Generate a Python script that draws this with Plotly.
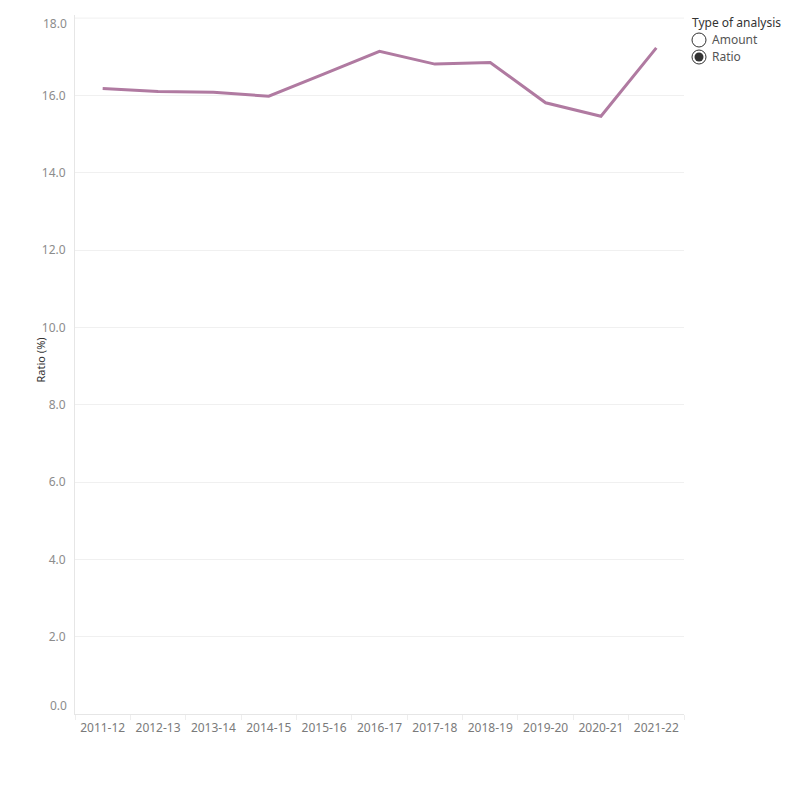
import plotly.graph_objects as go

years = ["2011-12", "2012-13", "2013-14", "2014-15", "2015-16", "2016-17",
         "2017-18", "2018-19", "2019-20", "2020-21", "2021-22"]
ratio = [16.18, 16.10, 16.08, 15.98, 16.56, 17.14, 16.81, 16.85, 15.81, 15.46, 17.23]
ytick_vals = [2, 4, 6, 8, 10, 12, 14, 16]
yend_vals = [0, 18]
legend_items = ["Amount", "Ratio"]
selected = "Ratio"

FONT = "Noto Sans"
L, R, T, B = 75, 116, 15, 86
PW, PH = 800 - L - R, 800 - T - B

fig = go.Figure()
fig.add_trace(go.Scatter(x=years, y=ratio, mode="lines",
                         line=dict(color="#b07aa1", width=3), showlegend=False))

fig.update_layout(
    width=800, height=800, margin=dict(l=L, r=R, t=T, b=B),
    paper_bgcolor="white", plot_bgcolor="white",
    font=dict(family=FONT, size=12, color="#666"),
    showlegend=False,
    xaxis=dict(type="category", range=[-0.5, 10.5], showgrid=False,
               showline=True, linecolor="#e6e6e6", linewidth=1,
               ticks="outside", tickson="boundaries", ticklen=5, tickcolor="#eeeeee",
               ticklabelstandoff=3,
               tickfont=dict(family=FONT, size=12, color="#7a7a7a"), fixedrange=True),
    yaxis=dict(range=[0, 18.08], tickvals=ytick_vals,
               ticktext=[f"{v:.1f}" for v in ytick_vals],
               showgrid=True, gridcolor="#f0f0f0", gridwidth=1, zeroline=False,
               showline=True, linecolor="#e6e6e6", linewidth=1,
               ticks="", ticklabelstandoff=6,
               tickfont=dict(family=FONT, size=12, color="#8c8c8c")),
)

# end tick labels (kept inside axis like the reference) + gridline at 18
for v, ys in zip(yend_vals, [9, -5]):
    fig.add_annotation(x=0, xref="paper", xanchor="right", xshift=-6, y=v, yref="y",
                       yshift=ys, text=f"{v:.1f}", showarrow=False,
                       font=dict(family=FONT, size=12, color="#8c8c8c"))
fig.add_shape(type="line", xref="paper", x0=0, x1=1, yref="y", y0=18, y1=18,
              line=dict(color="#f0f0f0", width=1), layer="below")

# y-axis title
fig.add_annotation(x=(30 - L) / PW, xref="paper", y=(714 - 360) / PH, yref="paper",
                   text="Ratio (%)", textangle=-90, showarrow=False,
                   font=dict(family=FONT, size=11, color="#333"))

# legend (radio buttons)
def px_x(p):
    return (p - L) / PW

def px_y(p):
    return (800 - B - p) / PH

fig.add_annotation(x=px_x(690), xref="paper", xanchor="left", y=px_y(22), yref="paper",
                   yanchor="middle", text="Type of analysis", showarrow=False,
                   font=dict(family=FONT, size=12, color="#333"))
for i, item in enumerate(legend_items):
    cy = 40 + i * 17
    fig.add_shape(type="circle", xref="paper", yref="paper",
                  xsizemode="pixel", ysizemode="pixel",
                  xanchor=px_x(699), yanchor=px_y(cy),
                  x0=-7, x1=7, y0=-7, y1=7,
                  line=dict(color="#333", width=1), fillcolor="white")
    if item == selected:
        fig.add_shape(type="circle", xref="paper", yref="paper",
                      xsizemode="pixel", ysizemode="pixel",
                      xanchor=px_x(699), yanchor=px_y(cy),
                      x0=-4.5, x1=4.5, y0=-4.5, y1=4.5,
                      line=dict(color="#333", width=0), fillcolor="#333")
    fig.add_annotation(x=px_x(710), xref="paper", xanchor="left", y=px_y(cy), yref="paper",
                       yanchor="middle", text=item, showarrow=False,
                       font=dict(family=FONT, size=12, color="#555"))

fig.write_html("out.html")
